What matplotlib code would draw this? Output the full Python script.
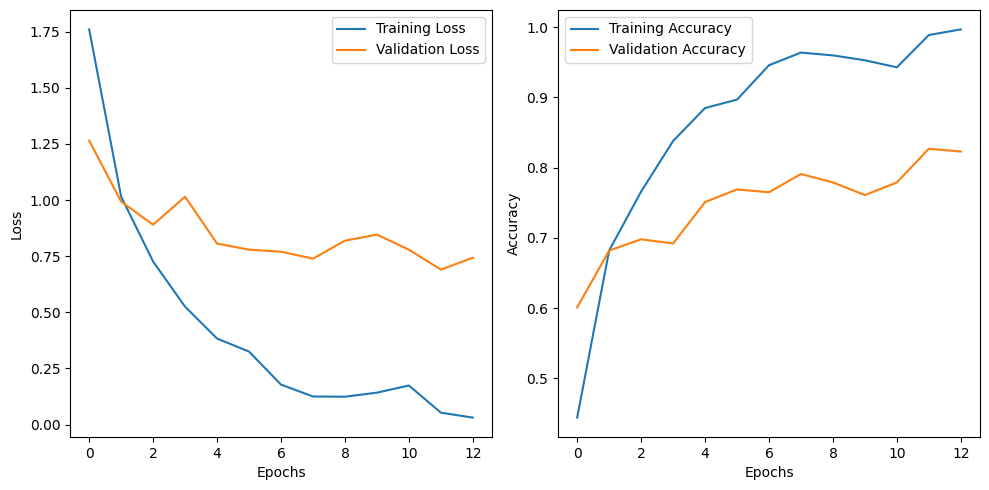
import matplotlib
matplotlib.use('Agg')
import matplotlib.pyplot as plt

# values
epochs = list(range(13))
train_loss = [1.76, 1.015, 0.726, 0.525, 0.383, 0.325, 0.178, 0.125, 0.124, 0.142, 0.174, 0.053, 0.031]
val_loss = [1.265, 0.993, 0.890, 1.015, 0.806, 0.779, 0.770, 0.739, 0.819, 0.846, 0.779, 0.690, 0.743]
train_acc = [0.444, 0.682, 0.766, 0.838, 0.885, 0.897, 0.946, 0.964, 0.960, 0.953, 0.943, 0.989, 0.997]
val_acc = [0.601, 0.682, 0.698, 0.692, 0.751, 0.769, 0.765, 0.791, 0.779, 0.761, 0.779, 0.827, 0.823]

W, H = 989, 490
fig = plt.figure(figsize=(W / 100, H / 100), dpi=100)

# axes boxes in pixels (left, top, right, bottom)
def box(l, t, r, b):
    return [l / W, (H - b) / H, (r - l) / W, (b - t) / H]

# Loss plot
ax1 = fig.add_axes(box(70, 10, 492, 437))
ax1.plot(epochs, train_loss, label='Training Loss')
ax1.plot(epochs, val_loss, label='Validation Loss')
ax1.set_xlabel('Epochs')
ax1.set_ylabel('Loss')
ax1.legend()

# Accuracy plot
ax2 = fig.add_axes(box(558, 10, 980, 437))
ax2.plot(epochs, train_acc, label='Training Accuracy')
ax2.plot(epochs, val_acc, label='Validation Accuracy')
ax2.set_xlabel('Epochs')
ax2.set_ylabel('Accuracy')
ax2.legend()

plt.savefig('out.png')
